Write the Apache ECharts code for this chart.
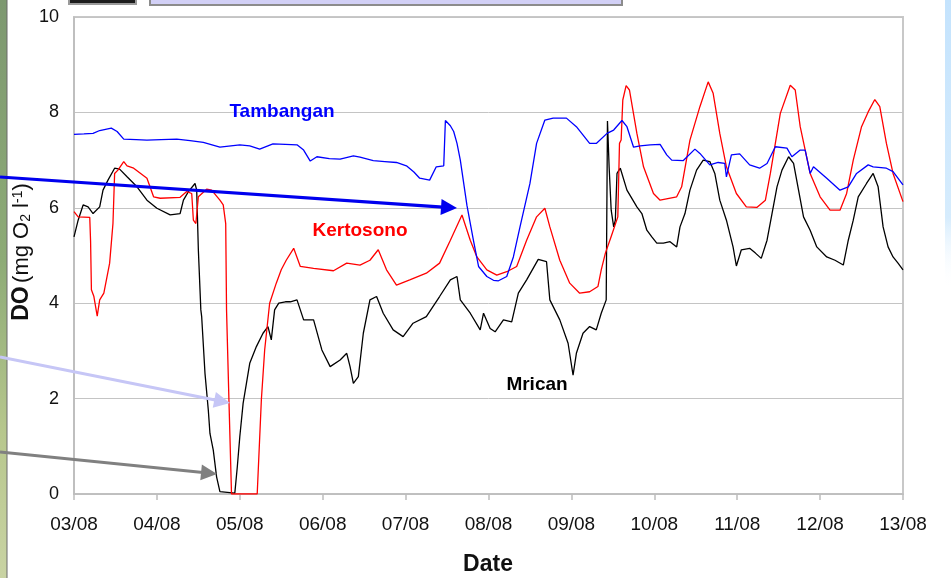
<!DOCTYPE html>
<html>
<head>
<meta charset="utf-8">
<title>DO</title>
<script src="https://cdn.jsdelivr.net/npm/echarts@6/dist/echarts.min.js"></script>
<style>
  html, body { margin: 0; padding: 0; background: #ffffff; }
  #chart { width: 951px; height: 578px; }
</style>
</head>
<body>
<div id="chart"></div>
<script>
// Dissolved oxygen, days counted from 03/08 00:00
const dateLabels = ['03/08', '04/08', '05/08', '06/08', '07/08', '08/08', '09/08', '10/08', '11/08', '12/08', '13/08'];
const yTicks = [0, 2, 4, 6, 8, 10];

const tambanganDay = [0, 0.12, 0.23, 0.31, 0.45, 0.52, 0.6, 0.75, 0.88, 1.05, 1.24, 1.4, 1.56, 1.76, 2.0, 2.12, 2.24, 2.4, 2.55, 2.69, 2.77, 2.85, 2.93, 3.08, 3.21, 3.37, 3.45, 3.61, 3.75, 3.89, 4.01, 4.1, 4.17, 4.29, 4.37, 4.46, 4.48, 4.54, 4.58, 4.62, 4.66, 4.74, 4.82, 4.88, 4.98, 5.06, 5.12, 5.22, 5.3, 5.38, 5.5, 5.58, 5.68, 5.78, 5.94, 6.06, 6.22, 6.3, 6.43, 6.51, 6.61, 6.67, 6.75, 6.83, 6.95, 7.07, 7.15, 7.21, 7.35, 7.49, 7.55, 7.67, 7.77, 7.85, 7.87, 7.93, 8.03, 8.15, 8.27, 8.36, 8.46, 8.6, 8.66, 8.76, 8.82, 8.88, 8.92, 9.08, 9.24, 9.34, 9.44, 9.58, 9.64, 9.8, 9.88, 10];
const tambanganDO = [7.54, 7.55, 7.56, 7.62, 7.67, 7.6, 7.44, 7.43, 7.42, 7.43, 7.44, 7.41, 7.37, 7.27, 7.32, 7.3, 7.23, 7.34, 7.33, 7.32, 7.21, 6.98, 7.07, 7.03, 7.02, 7.09, 7.06, 6.99, 6.97, 6.95, 6.88, 6.75, 6.62, 6.58, 6.86, 6.88, 7.83, 7.72, 7.6, 7.35, 7.0, 6.05, 5.3, 4.77, 4.56, 4.48, 4.47, 4.56, 4.97, 5.6, 6.51, 7.35, 7.84, 7.88, 7.88, 7.7, 7.35, 7.35, 7.56, 7.63, 7.83, 7.7, 7.27, 7.3, 7.32, 7.33, 7.11, 7.0, 6.99, 7.23, 7.14, 6.9, 6.95, 6.93, 6.65, 7.11, 7.13, 6.9, 6.83, 6.93, 7.28, 7.25, 7.07, 7.21, 7.21, 6.72, 6.86, 6.62, 6.37, 6.44, 6.72, 6.9, 6.86, 6.83, 6.76, 6.48];

const kertosonoDay = [0, 0.05, 0.19, 0.2, 0.21, 0.24, 0.28, 0.31, 0.36, 0.43, 0.47, 0.49, 0.53, 0.6, 0.64, 0.72, 0.88, 0.96, 1.04, 1.28, 1.36, 1.42, 1.44, 1.47, 1.5, 1.6, 1.66, 1.76, 1.8, 1.83, 1.84, 1.87, 1.9, 2.21, 2.26, 2.3, 2.36, 2.44, 2.5, 2.56, 2.65, 2.73, 2.89, 3.13, 3.29, 3.45, 3.57, 3.67, 3.77, 3.89, 4.05, 4.25, 4.41, 4.54, 4.68, 4.78, 4.86, 4.98, 5.1, 5.22, 5.34, 5.46, 5.58, 5.68, 5.74, 5.86, 5.98, 6.1, 6.22, 6.32, 6.36, 6.41, 6.48, 6.56, 6.58, 6.6, 6.62, 6.66, 6.7, 6.79, 6.87, 6.99, 7.07, 7.27, 7.33, 7.43, 7.55, 7.65, 7.71, 7.79, 7.87, 7.99, 8.11, 8.24, 8.34, 8.4, 8.52, 8.64, 8.7, 8.76, 8.88, 9.0, 9.12, 9.24, 9.32, 9.4, 9.5, 9.58, 9.66, 9.72, 9.8, 9.88, 10];
const kertosonoDO = [5.92, 5.81, 5.8, 5.3, 4.28, 4.14, 3.73, 4.07, 4.21, 4.84, 5.67, 6.72, 6.79, 6.97, 6.88, 6.83, 6.62, 6.23, 6.2, 6.22, 6.34, 6.3, 5.74, 5.67, 6.23, 6.39, 6.37, 6.16, 6.06, 5.67, 3.86, 1.9, 0, 0, 1.97, 3.02, 4.0, 4.42, 4.7, 4.9, 5.15, 4.77, 4.73, 4.68, 4.84, 4.8, 4.9, 5.12, 4.7, 4.38, 4.49, 4.63, 4.84, 5.32, 5.85, 5.32, 4.97, 4.7, 4.59, 4.66, 4.77, 5.32, 5.81, 5.99, 5.6, 4.9, 4.42, 4.21, 4.24, 4.35, 4.7, 5.05, 5.4, 5.81, 7.35, 7.42, 8.26, 8.56, 8.47, 7.56, 6.86, 6.3, 6.16, 6.23, 6.44, 7.42, 8.12, 8.64, 8.4, 7.56, 6.86, 6.3, 6.02, 6.01, 6.16, 6.72, 7.98, 8.57, 8.47, 7.7, 6.72, 6.23, 5.95, 5.95, 6.3, 7.0, 7.7, 8.01, 8.27, 8.12, 7.35, 6.72, 6.13];

const mricanDay = [0, 0.05, 0.11, 0.17, 0.23, 0.31, 0.35, 0.41, 0.49, 0.55, 0.64, 0.76, 0.88, 1.0, 1.16, 1.28, 1.32, 1.38, 1.46, 1.48, 1.5, 1.53, 1.54, 1.58, 1.62, 1.64, 1.68, 1.72, 1.76, 1.94, 1.97, 2.0, 2.04, 2.08, 2.12, 2.2, 2.28, 2.34, 2.38, 2.42, 2.47, 2.55, 2.61, 2.69, 2.77, 2.89, 2.99, 3.09, 3.21, 3.29, 3.33, 3.37, 3.43, 3.49, 3.57, 3.65, 3.73, 3.85, 3.97, 4.09, 4.25, 4.41, 4.54, 4.62, 4.66, 4.78, 4.9, 4.94, 5.02, 5.08, 5.18, 5.28, 5.36, 5.46, 5.6, 5.7, 5.74, 5.86, 5.96, 6.02, 6.06, 6.14, 6.22, 6.3, 6.36, 6.42, 6.435, 6.455, 6.48, 6.51, 6.53, 6.55, 6.59, 6.67, 6.79, 6.85, 6.91, 6.97, 7.03, 7.11, 7.19, 7.27, 7.31, 7.37, 7.43, 7.51, 7.59, 7.67, 7.73, 7.79, 7.87, 7.95, 7.99, 8.05, 8.15, 8.22, 8.29, 8.36, 8.42, 8.48, 8.54, 8.62, 8.68, 8.74, 8.8, 8.88, 8.96, 9.08, 9.18, 9.28, 9.34, 9.4, 9.46, 9.56, 9.64, 9.7, 9.76, 9.82, 9.88, 9.94, 10];
const mricanDO = [5.39, 5.74, 6.06, 6.02, 5.88, 6.02, 6.37, 6.58, 6.83, 6.81, 6.65, 6.44, 6.16, 5.99, 5.85, 5.88, 6.16, 6.34, 6.51, 6.37, 5.12, 3.86, 3.72, 2.53, 1.76, 1.27, 0.92, 0.36, 0.05, 0.02, 0.57, 1.2, 1.9, 2.32, 2.74, 3.09, 3.37, 3.51, 3.23, 3.86, 4.0, 4.03, 4.03, 4.07, 3.65, 3.65, 3.02, 2.67, 2.81, 2.95, 2.67, 2.32, 2.46, 3.37, 4.07, 4.14, 3.79, 3.44, 3.3, 3.58, 3.72, 4.14, 4.49, 4.56, 4.07, 3.79, 3.44, 3.79, 3.47, 3.4, 3.65, 3.61, 4.21, 4.49, 4.92, 4.87, 4.07, 3.65, 3.16, 2.49, 2.95, 3.37, 3.51, 3.44, 3.79, 4.07, 7.82, 6.86, 5.95, 5.6, 5.74, 6.72, 6.83, 6.37, 6.02, 5.88, 5.53, 5.39, 5.26, 5.26, 5.29, 5.18, 5.6, 5.88, 6.37, 6.79, 7.0, 6.97, 6.72, 6.16, 5.74, 5.18, 4.78, 5.12, 5.15, 5.05, 4.94, 5.32, 5.88, 6.44, 6.79, 7.07, 6.93, 6.37, 5.81, 5.53, 5.18, 4.97, 4.9, 4.8, 5.32, 5.74, 6.23, 6.51, 6.72, 6.44, 5.6, 5.18, 4.97, 4.84, 4.7];

const seriesNames = ['Mrican', 'Kertosono', 'Tambangan'];
const seriesColors = ['#000000', '#ff0000', '#0000ff'];

const pair = (days, vals) => days.map((d, i) => [d, vals[i]]);
const FONT = '"Liberation Sans", Arial, Helvetica, sans-serif';

// annotation arrow: shaft plus triangular head pointing at (x2, y2)
function arrow(x1, y1, x2, y2, color, width, headLen, headHalf) {
  const dx = x2 - x1, dy = y2 - y1, len = Math.hypot(dx, dy);
  const ux = dx / len, uy = dy / len, px = -uy, py = ux;
  const bx = x2 - ux * headLen, by = y2 - uy * headLen;
  return [
    { type: 'line', z: 100, silent: true,
      shape: { x1: x1, y1: y1, x2: bx + ux * 2, y2: by + uy * 2 },
      style: { stroke: color, lineWidth: width } },
    { type: 'polygon', z: 100, silent: true,
      shape: { points: [[x2, y2], [bx + px * headHalf, by + py * headHalf], [bx - px * headHalf, by - py * headHalf]] },
      style: { fill: color } }
  ];
}

const chart = echarts.init(document.getElementById('chart'), null, { renderer: 'canvas' });

const option = {
  animation: false,
  backgroundColor: '#ffffff',
  grid: {
    left: 74, right: 48, top: 17, bottom: 84,
    show: true, borderColor: '#c8c8c8', borderWidth: 2, backgroundColor: '#ffffff'
  },
  xAxis: {
    type: 'value', min: 0, max: dateLabels.length - 1, interval: 1,
    axisLine: { show: true, lineStyle: { color: '#bdbdbd', width: 1.5 } },
    axisTick: { show: true, length: 6, lineStyle: { color: '#bdbdbd', width: 1.5 } },
    axisLabel: {
      margin: 21, fontSize: 19, color: '#111111', fontFamily: FONT,
      formatter: v => dateLabels[Math.round(v)]
    },
    splitLine: { show: false }
  },
  yAxis: {
    type: 'value', min: yTicks[0], max: yTicks[yTicks.length - 1], interval: yTicks[1] - yTicks[0],
    axisLine: { show: true, lineStyle: { color: '#bdbdbd', width: 1.5 } },
    axisTick: { show: false },
    axisLabel: { margin: 15, fontSize: 18, color: '#111111', fontFamily: FONT },
    splitLine: { show: true, lineStyle: { color: '#c4c4c4', width: 1 } }
  },
  series: [
    { name: seriesNames[0], type: 'line', data: pair(mricanDay, mricanDO), showSymbol: false,
      lineStyle: { color: seriesColors[0], width: 1.3 }, z: 3 },
    { name: seriesNames[1], type: 'line', data: pair(kertosonoDay, kertosonoDO), showSymbol: false,
      lineStyle: { color: seriesColors[1], width: 1.3 }, z: 4 },
    { name: seriesNames[2], type: 'line', data: pair(tambanganDay, tambanganDO), showSymbol: false,
      lineStyle: { color: seriesColors[2], width: 1.3 }, z: 5 }
  ],
  graphic: [
    // photo strip on the left edge of the slide
    { type: 'rect', z: 0, silent: true, shape: { x: 0, y: 0, width: 7, height: 578 },
      style: { fill: new echarts.graphic.LinearGradient(0, 0, 0, 1, [
        { offset: 0, color: '#7d9870' }, { offset: 0.45, color: '#8dab76' },
        { offset: 0.75, color: '#b7c78d' }, { offset: 1, color: '#c9d3a3' }]) } },
    { type: 'line', z: 1, silent: true, shape: { x1: 7, y1: 0, x2: 7, y2: 578 },
      style: { stroke: '#6a6a6a', lineWidth: 1 } },
    // pale blue edge on the right
    { type: 'rect', z: 0, silent: true, shape: { x: 945, y: 0, width: 6, height: 290 },
      style: { fill: new echarts.graphic.LinearGradient(0, 0, 0, 1, [
        { offset: 0, color: '#c4e3fd' }, { offset: 0.75, color: '#d6ecfd' },
        { offset: 1, color: 'rgba(255,255,255,0)' }]) } },
    // boxes cut by the top edge
    { type: 'rect', z: 1, silent: true, shape: { x: 69, y: -6, width: 67, height: 10 },
      style: { fill: '#1c1c1c', stroke: '#9a9a9a', lineWidth: 2 } },
    { type: 'rect', z: 1, silent: true, shape: { x: 150, y: -6, width: 472, height: 11 },
      style: { fill: '#d2d0f6', stroke: '#8c8c8c', lineWidth: 2 } },
    // series names
    { type: 'text', z: 50, x: 282, y: 112, silent: true,
      style: { text: seriesNames[2], fill: seriesColors[2], font: 'bold 19px ' + FONT, align: 'center', verticalAlign: 'middle' } },
    { type: 'text', z: 50, x: 360, y: 231, silent: true,
      style: { text: seriesNames[1], fill: seriesColors[1], font: 'bold 19px ' + FONT, align: 'center', verticalAlign: 'middle' } },
    { type: 'text', z: 50, x: 537, y: 385, silent: true,
      style: { text: seriesNames[0], fill: seriesColors[0], font: 'bold 19px ' + FONT, align: 'center', verticalAlign: 'middle' } },
    // axis titles
    { type: 'text', z: 50, x: 488, y: 565, silent: true,
      style: { text: 'Date', fill: '#111111', font: 'bold 23px ' + FONT, align: 'center', verticalAlign: 'middle' } },
    { type: 'text', z: 50, x: 22, y: 252, rotation: Math.PI / 2, silent: true,
      style: {
        text: '{b|DO} {r|(mg O}{s|2}{r| l}{p|-1}{r|)}',
        align: 'center', verticalAlign: 'middle', fill: '#111111',
        rich: {
          b: { font: 'bold 23px ' + FONT, fill: '#111111', lineHeight: 26, verticalAlign: 'middle' },
          r: { font: '22px ' + FONT, fill: '#111111', lineHeight: 26, verticalAlign: 'middle' },
          s: { font: '14px ' + FONT, fill: '#111111', lineHeight: 26, verticalAlign: 'bottom', padding: [0, 0, 2, 0] },
          p: { font: '14px ' + FONT, fill: '#111111', lineHeight: 26, verticalAlign: 'top', padding: [2, 0, 0, 0] }
        }
      } },
    // call-out arrows
    ...arrow(0, 177, 457, 208, '#0000ee', 3.2, 16, 8),
    ...arrow(0, 357, 230, 403, '#c6c6f6', 3, 16, 8),
    ...arrow(0, 452, 217, 474, '#808080', 3, 16, 8)
  ]
};

chart.setOption(option);
</script>
</body>
</html>
